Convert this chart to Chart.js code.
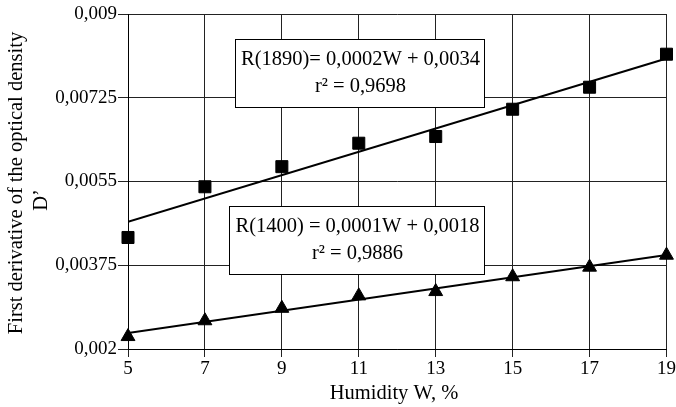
<!DOCTYPE html>
<html>
<head>
<meta charset="utf-8">
<script src="https://cdn.jsdelivr.net/npm/chart.js@4.4.1/dist/chart.umd.min.js"></script>
<style>
    html, body { margin: 0; padding: 0; background: #fff; }
    #wrap { width: 676px; height: 407px; }
</style>
</head>
<body>
<div id="wrap"><canvas id="density_chart" width="676" height="407"></canvas></div>
<script>
// Humidity values (%) and measured first derivative at two wavelengths
const humidity = [5, 7, 9, 11, 13, 15, 17, 19];
const r1890 = [0.00433, 0.00539, 0.00581, 0.0063, 0.00644, 0.00701, 0.00747, 0.00816];
const r1400 = [0.00226, 0.00259, 0.00285, 0.00311, 0.0032, 0.00351, 0.00371, 0.00396];

const yTicks = [0.002, 0.00375, 0.0055, 0.00725, 0.009];
const yTickLabels = ['0,002', '0,00375', '0,0055', '0,00725', '0,009'];
const xTicks = [5, 7, 9, 11, 13, 15, 17, 19];

const eq1890 = ['R(1890)= 0,0002W + 0,0034', 'r\u00B2 = 0,9698'];
const eq1400 = ['R(1400) = 0,0001W + 0,0018', 'r\u00B2 = 0,9886'];

const FONT = '"Liberation Serif", "DejaVu Serif", serif';

// least squares line through the measured points, returned as two end points
function trendLine(xs, ys) {
    const n = xs.length;
    const mx = xs.reduce((a, b) => a + b, 0) / n;
    const my = ys.reduce((a, b) => a + b, 0) / n;
    let sxy = 0, sxx = 0;
    xs.forEach((x, i) => {
        sxy += (x - mx) * (ys[i] - my);
        sxx += (x - mx) * (x - mx);
    });
    const k = sxy / sxx;
    const b = my - k * mx;
    const x0 = xs[0], x1 = xs[n - 1];
    return [{ x: x0, y: k * x0 + b }, { x: x1, y: k * x1 + b }];
}

function points(xs, ys) {
    return xs.map((x, i) => ({ x: x, y: ys[i] }));
}

// equation boxes and axis titles drawn on top of the plot
const labelsPlugin = {
    id: 'labels',
    afterDraw(chart) {
        const ctx = chart.ctx;
        ctx.save();
        ctx.font = '20.5px ' + FONT;
        ctx.fillStyle = '#000';
        ctx.textAlign = 'center';
        ctx.textBaseline = 'middle';

        const boxes = [
            { x: 235, y: 39, w: 249, h: 68, lines: eq1890 },
            { x: 229, y: 206, w: 255, h: 68, lines: eq1400 }
        ];
        boxes.forEach(b => {
            ctx.fillStyle = '#fff';
            ctx.fillRect(b.x, b.y, b.w, b.h);
            ctx.strokeStyle = '#000';
            ctx.lineWidth = 1;
            ctx.strokeRect(b.x + 0.5, b.y + 0.5, b.w, b.h);
            ctx.fillStyle = '#000';
            ctx.fillText(b.lines[0], b.x + b.w / 2 + 1, b.y + 21);
            ctx.fillText(b.lines[1], b.x + b.w / 2 + 1, b.y + 48);
        });

        ctx.fillText('Humidity W, %', 394, 394);

        ctx.translate(17, 183);
        ctx.rotate(-Math.PI / 2);
        ctx.fillText('First derivative of the optical density', 0, 0);
        ctx.fillText('D\u2019', -17, 25);
        ctx.restore();
    }
};

const ctx = document.getElementById('density_chart').getContext('2d');
new Chart(ctx, {
    type: 'scatter',
    data: {
        datasets: [
            {
                label: 'R(1890)',
                data: points(humidity, r1890),
                pointStyle: 'rect',
                pointRadius: 8.5,
                backgroundColor: '#000',
                borderColor: '#000',
                borderWidth: 1,
                showLine: false,
                clip: false,
                order: 1
            },
            {
                label: 'R(1400)',
                data: points(humidity, r1400),
                pointStyle: 'triangle',
                pointRadius: 8,
                backgroundColor: '#000',
                borderColor: '#000',
                borderWidth: 1,
                showLine: false,
                clip: false,
                order: 1
            },
            {
                label: 'trend 1890',
                data: trendLine(humidity, r1890),
                showLine: true,
                pointRadius: 0,
                borderColor: '#000',
                borderWidth: 2,
                order: 2
            },
            {
                label: 'trend 1400',
                data: trendLine(humidity, r1400),
                showLine: true,
                pointRadius: 0,
                borderColor: '#000',
                borderWidth: 2,
                order: 2
            }
        ]
    },
    options: {
        responsive: false,
        animation: false,
        layout: { padding: { top: 14, right: 8, left: 0, bottom: 0 } },
        plugins: {
            legend: { display: false },
            tooltip: { enabled: false }
        },
        scales: {
            x: {
                type: 'linear',
                min: 5,
                max: 19,
                afterBuildTicks: scale => { scale.ticks = xTicks.map(v => ({ value: v })); },
                afterFit: scale => {
                    scale.height = 58;
                    scale.paddingLeft = 0;
                    scale.paddingRight = 0;
                },
                grid: { color: '#222', tickColor: '#222', tickLength: 8, lineWidth: 1 },
                border: { color: '#000', width: 1 },
                ticks: {
                    color: '#000',
                    padding: 1,
                    maxRotation: 0,
                    font: { family: FONT, size: 19 }
                }
            },
            y: {
                type: 'linear',
                min: 0.002,
                max: 0.009,
                afterBuildTicks: scale => { scale.ticks = yTicks.map(v => ({ value: v })); },
                afterFit: scale => {
                    scale.width = 128;
                    scale.paddingTop = 0;
                    scale.paddingBottom = 0;
                },
                grid: { color: '#222', tickColor: '#222', tickLength: 10, lineWidth: 1 },
                border: { color: '#000', width: 1 },
                ticks: {
                    color: '#000',
                    padding: 1,
                    font: { family: FONT, size: 19 },
                    callback: (value) => {
                        const i = yTicks.findIndex(t => Math.abs(t - value) < 1e-9);
                        return i >= 0 ? yTickLabels[i] : '';
                    }
                }
            }
        }
    },
    plugins: [labelsPlugin]
});
</script>
</body>
</html>
